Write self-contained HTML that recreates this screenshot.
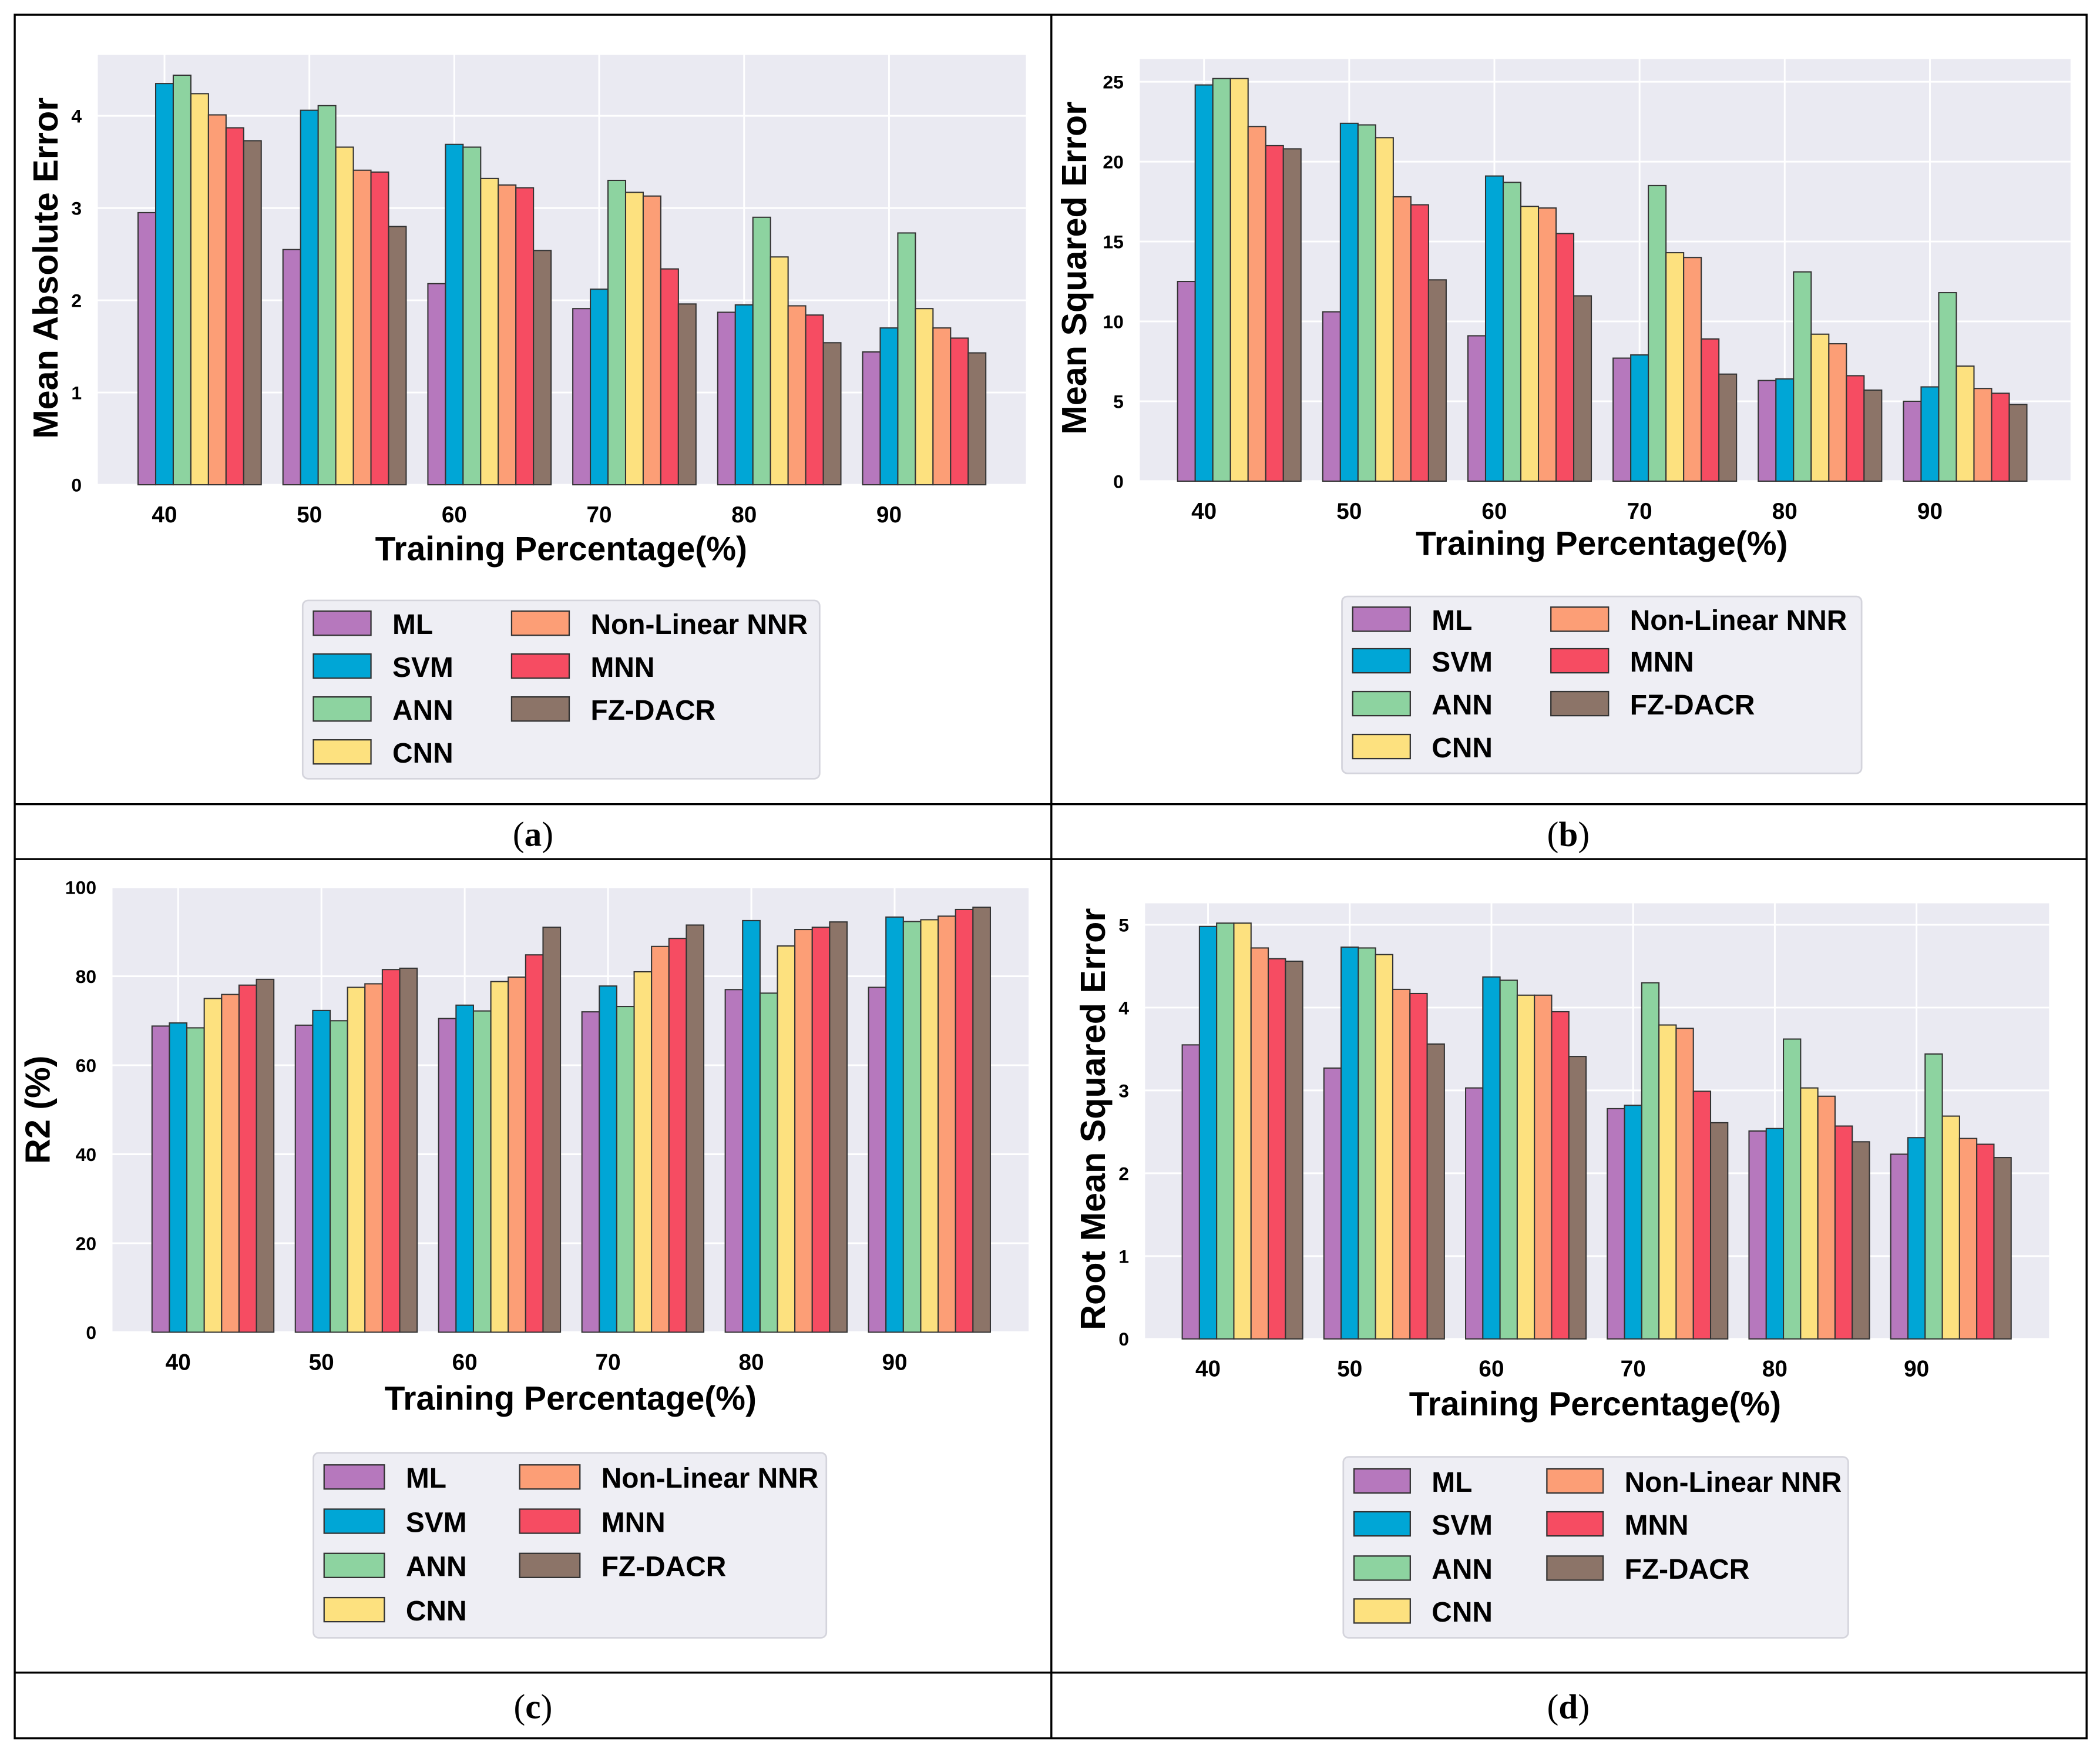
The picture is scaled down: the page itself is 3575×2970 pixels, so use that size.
<!DOCTYPE html>
<html><head><meta charset="utf-8"><style>
html,body{margin:0;padding:0;background:#fff}
svg{display:block}
text{font-family:"Liberation Sans",sans-serif}
</style></head><body>
<svg id="s" width="3575" height="2970" viewBox="0 0 1568 1302" preserveAspectRatio="none" xmlns="http://www.w3.org/2000/svg">
<g stroke="#000" stroke-width="1.5" fill="none">
<rect x="11" y="11" width="1547" height="1286"/>
<line x1="785" y1="11" x2="785" y2="1297"/>
<line x1="11" y1="600" x2="1558" y2="600"/>
<line x1="11" y1="641" x2="1558" y2="641"/>
<line x1="11" y1="1248" x2="1558" y2="1248"/>
</g>
<text x="398" y="631" font-size="26" text-anchor="middle" style="font-family:'Liberation Serif',serif">(<tspan font-weight="bold">a</tspan>)</text>
<text x="1171" y="631" font-size="26" text-anchor="middle" style="font-family:'Liberation Serif',serif">(<tspan font-weight="bold">b</tspan>)</text>
<text x="398" y="1282" font-size="26" text-anchor="middle" style="font-family:'Liberation Serif',serif">(<tspan font-weight="bold">c</tspan>)</text>
<text x="1171" y="1282" font-size="26" text-anchor="middle" style="font-family:'Liberation Serif',serif">(<tspan font-weight="bold">d</tspan>)</text>
</svg>
<script>
const categories = ["40","50","60","70","80","90"];
const seriesNames = ["ML","SVM","ANN","CNN","Non-Linear NNR","MNN","FZ-DACR"];
const colors = ["#b678bd","#00a6d6","#8dd3a0","#fde17f","#fc9e76","#f64c62","#8c7468"];
const maeML=[2.95,2.55,2.18,1.91,1.87,1.44];
const maeSVM=[4.35,4.06,3.69,2.12,1.95,1.70];
const maeANN=[4.44,4.11,3.66,3.30,2.90,2.73];
const maeCNN=[4.24,3.66,3.32,3.17,2.47,1.91];
const maeNNR=[4.01,3.41,3.25,3.13,1.94,1.70];
const maeMNN=[3.87,3.39,3.22,2.34,1.84,1.59];
const maeFZ=[3.73,2.80,2.54,1.96,1.54,1.43];
const maeTicks=[0,1,2,3,4];
const mseML=[12.5,10.6,9.1,7.7,6.3,5.0];
const mseSVM=[24.8,22.4,19.1,7.9,6.4,5.9];
const mseANN=[25.2,22.3,18.7,18.5,13.1,11.8];
const mseCNN=[25.2,21.5,17.2,14.3,9.2,7.2];
const mseNNR=[22.2,17.8,17.1,14.0,8.6,5.8];
const mseMNN=[21.0,17.3,15.5,8.9,6.6,5.5];
const mseFZ=[20.8,12.6,11.6,6.7,5.7,4.8];
const mseTicks=[0,5,10,15,20,25];
const r2ML=[68.8,69,70.5,72,77,77.5];
const r2SVM=[69.5,72.3,73.5,77.8,92.5,93.3];
const r2ANN=[68.4,70,72.2,73.2,76.2,92.3];
const r2CNN=[75,77.5,78.8,81,86.8,92.7];
const r2NNR=[75.9,78.3,79.8,86.7,90.5,93.5];
const r2MNN=[78,81.5,84.8,88.5,91,95];
const r2FZ=[79.3,81.8,91,91.5,92.2,95.5];
const r2Ticks=[0,20,40,60,80,100];
const rmseML=[3.55,3.27,3.03,2.78,2.51,2.23];
const rmseSVM=[4.98,4.73,4.37,2.82,2.54,2.43];
const rmseANN=[5.02,4.72,4.33,4.30,3.62,3.44];
const rmseCNN=[5.02,4.64,4.15,3.79,3.03,2.69];
const rmseNNR=[4.72,4.22,4.15,3.75,2.93,2.42];
const rmseMNN=[4.59,4.17,3.95,2.99,2.57,2.35];
const rmseFZ=[4.56,3.56,3.41,2.61,2.38,2.19];
const rmseTicks=[0,1,2,3,4,5];

const NS="http://www.w3.org/2000/svg";
const svg=document.getElementById('s');
function mk(tag,attrs,parent,txt){const e=document.createElementNS(NS,tag);for(const k in attrs)e.setAttribute(k,attrs[k]);if(txt!==undefined)e.textContent=txt;(parent||svg).appendChild(e);return e;}

function panel(p){
  const g=mk('g',{});
  
  
  const bg=mk('rect',{x:p.x0,y:p.top,width:p.x1-p.x0,height:p.y0-p.top,fill:'#eaeaf2'},g);
  
  
  const yS=v=>p.y0-(v/p.ymax)*(p.y0-p.yAtMax);
  const xS=i=>p.xFirst+i*p.step;
  p.ticks.forEach(t=>{
    const l=mk('line',{x1:p.x0,x2:p.x1,y1:yS(t),y2:yS(t),stroke:'#fff','stroke-width':1.3},g);
    
    
    const tx=mk('text',{x:p.x0-12,y:yS(t)+5,'font-size':14,'font-weight':'bold','text-anchor':'end'},g,String(t));
    
    
  });
  categories.forEach((c,i)=>{
    const l=mk('line',{x1:xS(i),x2:xS(i),y1:p.top,y2:p.y0,stroke:'#fff','stroke-width':1.3},g);
    
    
    const tx=mk('text',{x:xS(i),y:p.y0+28,'font-size':17,'font-weight':'bold','text-anchor':'middle'},g,c);
    
    
  });
  const bw=p.step*0.85/7;
  p.series.forEach((arr,s)=>{
    arr.forEach((v,i)=>{
      const x=xS(i)+(s-1.5)*bw;
      const r=mk('rect',{x:x,y:yS(v),width:bw,height:p.y0-yS(v),fill:colors[s],stroke:'#333','stroke-width':0.9},g);
      
      
    });
  });
  const xt=mk('text',{x:p.xtx,y:p.xty,'font-size':25,'font-weight':'bold','text-anchor':'middle'},g,'Training Percentage(%)');
  
  
  const yt=mk('text',{x:0,y:0,'font-size':26,'font-weight':'bold','text-anchor':'middle',transform:`translate(${p.ytx},${p.yty}) rotate(-90)`},g,p.ytitle);
  
  
  const L=p.leg;
  const lg=mk('g',{},g);
  
  
  mk('rect',{x:L.x,y:L.y,width:L.w,height:L.h,rx:4,fill:'#eeeef4',stroke:'#d4d4dc','stroke-width':1.2},lg);
  seriesNames.forEach((n,s)=>{
    const col=s<4?0:1,row=s<4?s:s-4;
    const sx=col?L.sx2:L.sx1, ry=L.rows[row];
    const sw=mk('rect',{x:sx,y:ry-9,width:L.sw,height:18,fill:colors[s],stroke:'#333','stroke-width':1},lg);
    
    
    const t=mk('text',{x:sx+L.sw+16,y:ry+8,'font-size':21,'font-weight':'bold'},lg,n);
    
    
  });
}
panel({name:'chart-mae',x0:73,x1:766,top:41,y0:361.7,ymax:4,yAtMax:86.4,xFirst:122.8,step:108.2,ticks:maeTicks,
  series:[maeML,maeSVM,maeANN,maeCNN,maeNNR,maeMNN,maeFZ],xtx:419,xty:418,ytx:43,yty:200,ytitle:'Mean Absolute Error',
  leg:{x:226,y:448,w:386,h:133,sx1:234,sx2:382,sw:43,rows:[465,497,529,561]}});
panel({name:'chart-mse',x0:851,x1:1546,top:44,y0:359,ymax:25,yAtMax:61,xFirst:899,step:108.4,ticks:mseTicks,
  series:[mseML,mseSVM,mseANN,mseCNN,mseNNR,mseMNN,mseFZ],xtx:1196,xty:414,ytx:811,yty:200,ytitle:'Mean Squared Error',
  leg:{x:1002,y:445,w:388,h:132,sx1:1010,sx2:1158,sw:43,rows:[462,493,525,557]}});
panel({name:'chart-r2',x0:84,x1:768,top:662,y0:994,ymax:100,yAtMax:662,xFirst:133,step:107,ticks:r2Ticks,
  series:[r2ML,r2SVM,r2ANN,r2CNN,r2NNR,r2MNN,r2FZ],xtx:426,xty:1052,ytx:37,yty:828,ytitle:'R2 (%)',
  leg:{x:234,y:1084,w:383,h:138,sx1:242,sx2:388,sw:45,rows:[1102,1135,1168,1201]}});
panel({name:'chart-rmse',x0:855,x1:1530,top:674,y0:999,ymax:5,yAtMax:690,xFirst:902,step:105.8,ticks:rmseTicks,
  series:[rmseML,rmseSVM,rmseANN,rmseCNN,rmseNNR,rmseMNN,rmseFZ],xtx:1191,xty:1056,ytx:825,yty:835,ytitle:'Root Mean Squared Error',
  leg:{x:1003,y:1087,w:377,h:135,sx1:1011,sx2:1155,sw:42,rows:[1105,1137,1170,1202]}});
</script>
</body></html>
